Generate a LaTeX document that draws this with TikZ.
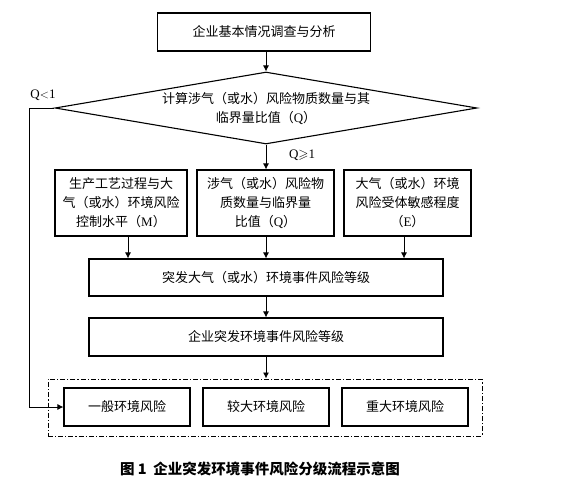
\documentclass[tikz,border=0pt]{standalone}
\usepackage{fontspec}
\usepackage{amssymb}
\setmainfont{Liberation Serif}
\newfontfamily\cjk{Noto Sans CJK SC}
\newcommand\lat[1]{{\rmfamily #1}}
\usetikzlibrary{shapes.geometric,arrows.meta}
\begin{document}
\begin{tikzpicture}[x=1pt,y=-1pt,
        box/.style={draw, line width=1.1pt, align=center, inner sep=0pt, font=\cjk\fontsize{13}{19}\selectfont},
        arr/.style={line width=0.9pt, -{Latex[length=6pt,width=6pt]}},
        lbl/.style={inner sep=0pt, font=\fontsize{13}{15}\selectfont}]
        \useasboundingbox (0,0) rectangle (580,489);
        \node[box, minimum width=213pt, minimum height=38pt] (top) at (264,32) {企业基本情况调查与分析};
        \node[box, shape=diamond, aspect=5.86, minimum width=422pt, minimum height=72pt] (dia) at (266,108) {计算涉气（或水）风险物质数量与其\\临界量比值（\lat{Q}）};
        \node[box, minimum width=132pt, minimum height=66pt] (boxM) at (121,203) {生产工艺过程与大\\气（或水）环境风险\\控制水平（\lat{M}）};
        \node[box, minimum width=137pt, minimum height=66pt] (boxQ) at (265.5,203) {涉气（或水）风险物\\质数量与临界量\\比值（\lat{Q}）};
        \node[box, minimum width=127pt, minimum height=66pt] (boxE) at (407.5,203) {大气（或水）环境\\风险受体敏感程度\\（\lat{E}）};
        \node[box, minimum width=354pt, minimum height=37pt] (grade1) at (266,277.5) {突发大气（或水）环境事件风险等级};
        \node[box, minimum width=354pt, minimum height=38pt] (grade2) at (266,337) {企业突发环境事件风险等级};
        \node[draw, line width=1pt, dash pattern=on 5pt off 2pt on 1.2pt off 2pt, minimum width=434pt, minimum height=57pt, inner sep=0pt] (outer) at (265,407.5) {};
        \node[box, minimum width=126pt, minimum height=38pt] (low) at (127,407) {一般环境风险};
        \node[box, minimum width=126pt, minimum height=38pt] (mid) at (266,407) {较大环境风险};
        \node[box, minimum width=126pt, minimum height=38pt] (high) at (405,407) {重大环境风险};
        \node[lbl] (qlt) at (43,95) {Q$<$1};
        \node[lbl] (qge) at (302,155) {Q$\geqslant$1};
        \node[inner sep=0pt, font=\cjk\bfseries\fontsize{14.5}{16}\selectfont] (cap) at (260,469) {图 1\ \ 企业突发环境事件风险分级流程示意图};
        \draw[arr] (top.south -| dia.north) -- (dia.north);
        \draw[arr] (dia.south) -- (dia.south |- boxQ.north);
        \draw[arr] ([xshift=7pt]boxM.south) -- ([xshift=7pt]boxM.south |- grade1.north);
        \draw[arr] ([xshift=0.5pt]boxQ.south) -- ([xshift=0.5pt]boxQ.south |- grade1.north);
        \draw[arr] ([xshift=-3.5pt]boxE.south) -- ([xshift=-3.5pt]boxE.south |- grade1.north);
        \draw[arr] (grade1.south) -- (grade2.north);
        \draw[arr] (grade2.south) -- (grade2.south |- outer.north);
        \draw[arr] (dia.west) -- ([xshift=-25pt]dia.west) |- (low.west);
    \end{tikzpicture}
\end{document}
